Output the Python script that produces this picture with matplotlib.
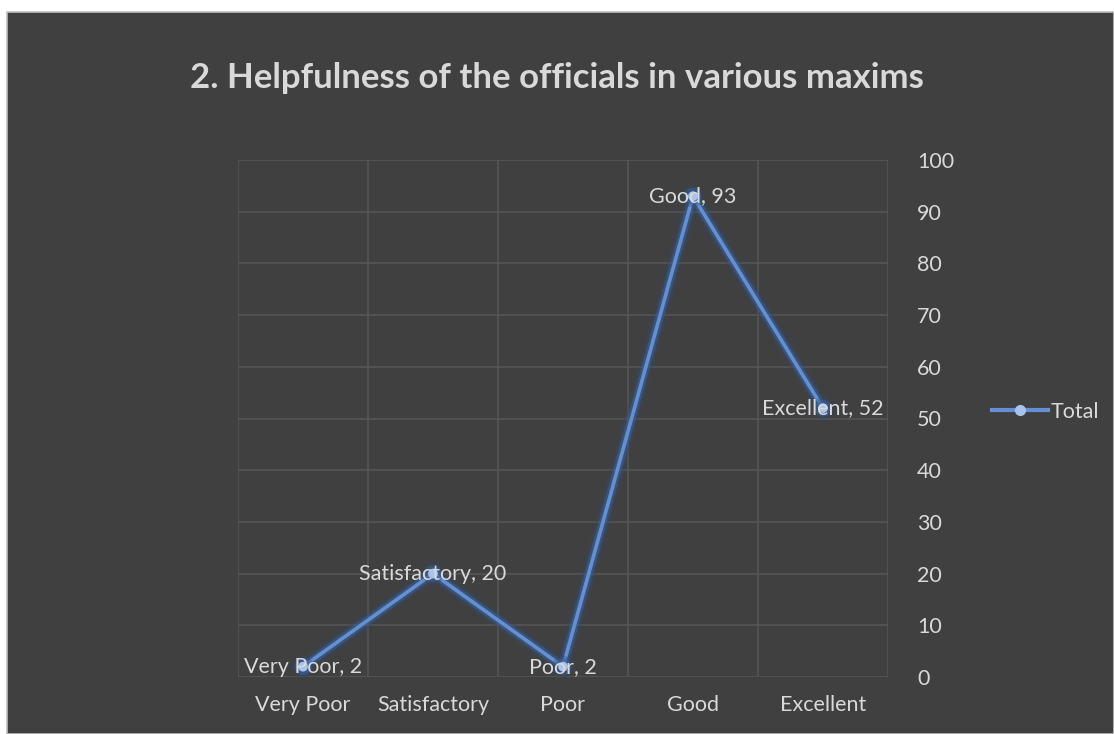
import matplotlib.pyplot as plt
import matplotlib.patheffects as pe
from matplotlib.patches import Rectangle
from matplotlib.lines import Line2D

categories = ['Very Poor', 'Satisfactory', 'Poor', 'Good', 'Excellent']
totals = [2, 20, 2, 93, 52]
y_ticks = [0, 10, 20, 30, 40, 50, 60, 70, 80, 90, 100]

bg = '#404040'
grid = '#555555'
txt = '#d9d9d9'
line_col = '#6390d2'

plt.rcParams['font.family'] = ['Lato', 'DejaVu Sans']

fig = plt.figure(figsize=(11.14, 7.34), dpi=100)
fig.patch.set_facecolor('white')
fig.patches.append(Rectangle((7 / 1114, 0), 1 - 7 / 1114, 1 - 12 / 734,
                             transform=fig.transFigure, facecolor=bg,
                             edgecolor='#bfbfbf', linewidth=1.2, zorder=-5))

ax = fig.add_axes([238 / 1114, 57 / 734, 650 / 1114, 517 / 734])
ax.set_facecolor('none')
x = list(range(len(categories)))

glow = [pe.Stroke(linewidth=10, foreground='#2e4a78', alpha=0.3),
        pe.Stroke(linewidth=6, foreground='#3d64a0', alpha=0.5),
        pe.Normal()]
ax.plot(x, totals, color=line_col, linewidth=2.6, marker='o', markersize=6,
        markerfacecolor='#a8c4ea', markeredgecolor='#a8c4ea',
        path_effects=glow, zorder=3)

for xi, cat, v in zip(x, categories, totals):
    ax.text(xi, v, f'{cat}, {v}', ha='center', va='center', color=txt,
            fontsize=15.5, zorder=4)

ax.set_xlim(-0.5, len(categories) - 0.5)
ax.set_ylim(0, 100)
ax.set_xticks(x)
ax.set_xticklabels(categories)
ax.set_xticks([i - 0.5 for i in range(len(categories) + 1)], minor=True)
ax.set_yticks(y_ticks)
ax.yaxis.tick_right()
ax.tick_params(axis='y', which='both', length=0, pad=21, labelsize=15.5,
               labelcolor=txt)
ax.tick_params(axis='x', which='both', length=0, pad=13, labelsize=15.5,
               labelcolor=txt)
ax.grid(axis='y', which='major', color=grid, linewidth=1.2)
ax.grid(axis='x', which='minor', color=grid, linewidth=1.2)
ax.grid(axis='x', which='major', visible=False)
for s in ax.spines.values():
    s.set_visible(False)
ax.set_axisbelow(True)

fig.text(557 / 1114, 1 - 78 / 734, '2. Helpfulness of the officials in various maxims',
         ha='center', va='center', fontsize=25, fontweight='bold', color=txt)

handle = Line2D([], [], color=line_col, linewidth=3, marker='o', markersize=7,
                markerfacecolor='#a8c4ea', markeredgecolor='#a8c4ea')
leg = fig.legend([handle], ['Total'], loc='center left',
                 bbox_to_anchor=(973 / 1114, 1 - 412 / 734), frameon=False,
                 fontsize=15.5, handlelength=2.6, handletextpad=0.1)
for t in leg.get_texts():
    t.set_color(txt)

fig.savefig('out.png', dpi=100, facecolor=fig.get_facecolor())
